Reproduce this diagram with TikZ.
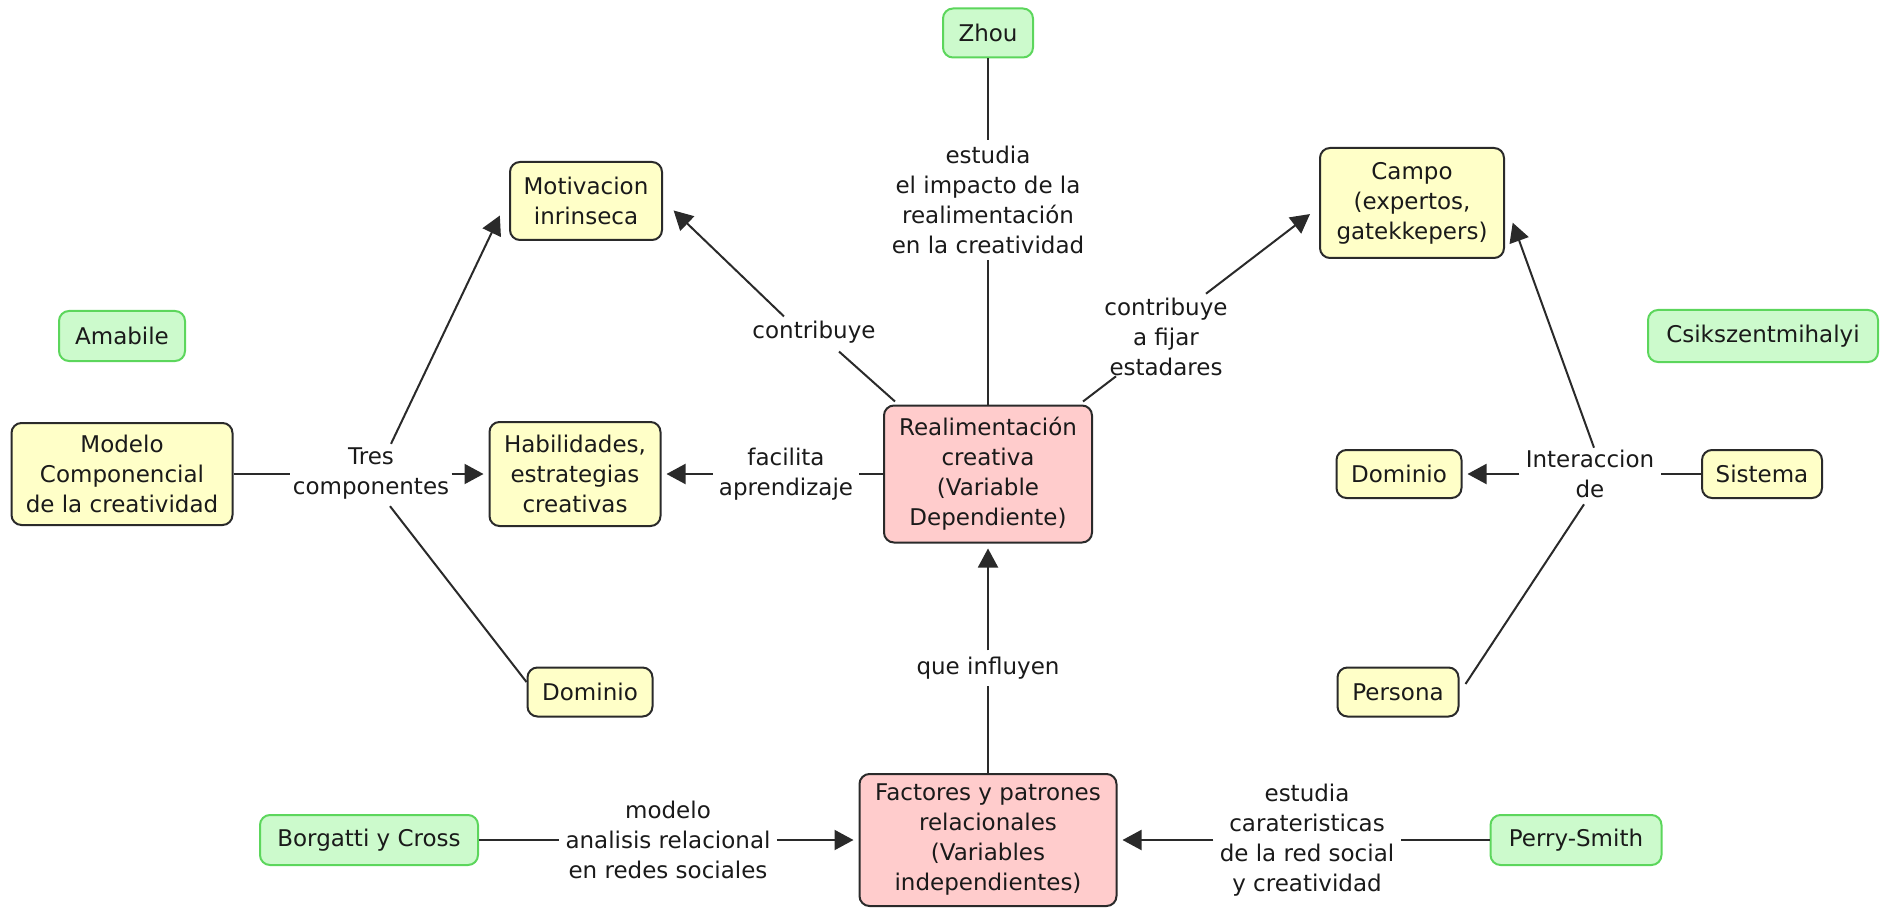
\documentclass[tikz,border=0pt]{standalone}
\usepackage{fontspec}
\setmainfont{DejaVu Sans}
\usetikzlibrary{arrows.meta,calc}
\definecolor{yelf}{HTML}{FFFFC8}
\definecolor{gref}{HTML}{CCFACC}
\definecolor{greb}{HTML}{5CD65C}
\definecolor{pinkf}{HTML}{FFCCCC}
\definecolor{bord}{HTML}{2A2A2A}
\definecolor{txt}{HTML}{1A1A1A}
\begin{document}
\begin{tikzpicture}[x=0.5pt,y=-0.5pt,
  every node/.style={font=\fontsize{11.5pt}{15pt}\selectfont, text=txt, align=center},
  sz/.style 2 args={minimum width=#1*0.5pt, minimum height=#2*0.5pt},
  box/.style={rounded corners=5pt, line width=1pt, inner sep=2pt},
  yel/.style={box, draw=bord, fill=yelf},
  gre/.style={box, draw=greb, fill=gref},
  pnk/.style={box, draw=bord, fill=pinkf},
  lab/.style={inner sep=3pt},
  ln/.style={draw=bord, line width=1pt},
  arr/.style={ln, -{Triangle[length=9.5pt,width=10pt]}, shorten >=2.5pt}
]
\useasboundingbox (0,0) rectangle (1885,909);

% concepts
\node[gre, sz={90}{49}] (zhou) at (988,33) {Zhou};
\node[yel, sz={152}{78}] (mot) at (586,201) {Motivacion\\inrinseca};
\node[yel, sz={184}{110}] (campo) at (1412,203) {Campo\\(expertos,\\gatekkepers)};
\node[gre, sz={126}{50}] (amab) at (122,336) {Amabile};
\node[gre, sz={230}{52}] (csik) at (1763,336) {Csikszentmihalyi};
\node[yel, sz={221}{102}] (modelo) at (122,474) {Modelo\\Componencial\\de la creatividad};
\node[yel, sz={171}{104}] (hab) at (575,474) {Habilidades,\\estrategias\\creativas};
\node[pnk, sz={208}{137}] (realim) at (988,474) {Realimentación\\creativa\\(Variable\\Dependiente)};
\node[yel, sz={125}{48}] (domr) at (1399,474) {Dominio};
\node[yel, sz={120}{48}] (sist) at (1762,474) {Sistema};
\node[yel, sz={125}{49}] (doml) at (590,692) {Dominio};
\node[yel, sz={121}{49}] (pers) at (1398,692) {Persona};
\node[pnk, sz={257}{132}] (fact) at (988,840) {Factores y patrones\\relacionales\\(Variables\\independientes)};
\node[gre, sz={218}{50}] (borg) at (369,840) {Borgatti y Cross};
\node[gre, sz={171}{50}] (perry) at (1576,840) {Perry-Smith};

% linking phrases
\node[lab, inner xsep=1pt] (tres) at (371,474) {Tres\\componentes};
\node[lab] (facil) at (786,474) {facilita\\aprendizaje};
\node[lab] (contr) at (814,332) {contribuye};
\node[lab] (estud) at (988,200) {estudia\\el impacto de la\\realimentación\\en la creatividad};
\node[lab] (fijar) at (1166,337) {contribuye\\a fijar\\estadares};
\node[lab] (inter) at (1590,474) {Interaccion\\de};
\node[lab] (influ) at (988,668) {que influyen};
\node[lab] (model) at (668,840) {modelo\\analisis relacional\\en redes sociales};
\node[lab] (carat) at (1307,840) {estudia\\carateristicas\\de la red social\\y creatividad};

% connectors
\draw[ln] (modelo) -- (tres);
\draw[arr] (tres) -- (hab);
\draw[arr] ($(tres.north)+(20,2)$) -- ($(mot.west)+(-7,10)$);
\draw[ln] ($(tres.south)+(19,0)$) -- ($(doml.west)+(0,-10)$);

\draw[ln] (realim) -- (facil);
\draw[arr] (facil) -- (hab);

\draw[ln] ($(realim.north west)+(12,-3)$) -- ($(contr.south)+(25,2)$);
\draw[arr] ($(contr.north)+(-30,2)$) -- ($(mot.east)+(7,6)$);

\draw[ln] (zhou) -- (estud);
\draw[ln] (estud) -- (realim);

\draw[ln] ($(realim.north east)+(-10,-3)$) -- ($(fijar.south)+(-50,-6)$);
\draw[arr] ($(fijar.north)+(40,2)$) -- ($(campo.west)+(-5,8)$);

\draw[ln] (sist) -- (inter);
\draw[arr] (inter) -- (domr);
\draw[arr] ($(inter.north)+(4,4)$) -- ($(campo.east)+(6,15)$);
\draw[ln] ($(pers.east)+(6,-8)$) -- ($(inter.south)+(-6,0)$);

\draw[ln] (fact) -- (influ);
\draw[arr] (influ) -- (realim);

\draw[ln] (borg) -- (model);
\draw[arr] (model) -- (fact);

\draw[ln] (perry) -- (carat);
\draw[arr] (carat) -- (fact);
\end{tikzpicture}
\end{document}
